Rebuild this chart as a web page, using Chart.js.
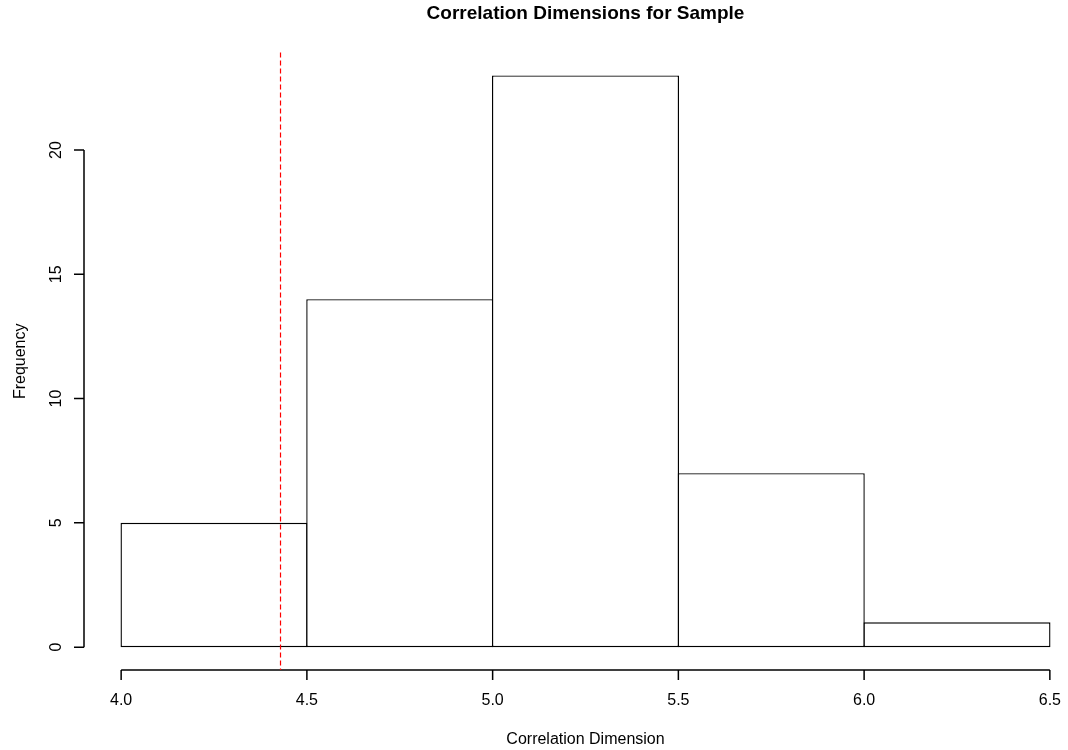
<!DOCTYPE html>
<html>
<head>
<meta charset="utf-8">
<title>Correlation Dimensions for Sample</title>
<script src="https://cdn.jsdelivr.net/npm/chart.js@4/dist/chart.umd.min.js"></script>
<style>
  html, body { margin: 0; padding: 0; background: #fff; overflow: hidden; }
  #wrap { width: 1068px; height: 750px; overflow: hidden; }
  canvas { display: block; }
</style>
</head>
<body>
<div id="wrap"><canvas id="hist" width="1100" height="750"></canvas></div>
<script>
// histogram bins (edges) and counts
const binEdges = [4.0, 4.5, 5.0, 5.5, 6.0, 6.5];
const binCounts = [5, 14, 23, 7, 1];

// axis ticks
const xTicks = [4.0, 4.5, 5.0, 5.5, 6.0, 6.5];
const xTickLabels = ['4.0', '4.5', '5.0', '5.5', '6.0', '6.5'];
const yTicks = [0, 5, 10, 15, 20];
const yTickLabels = ['0', '5', '10', '15', '20'];

// observed value marked with the dashed red line
const observedDim = 4.429;

const FONT = '"Liberation Sans", Arial, Helvetica, sans-serif';

const barData = binCounts.map((c, i) => ({ x: (binEdges[i] + binEdges[i + 1]) / 2, y: c }));

// R-like axes, labels and reference line
const rAxes = {
  id: 'rAxes',
  afterDatasetsDraw(chart) {
    const ctx = chart.ctx;
    const xs = chart.scales.x, ys = chart.scales.y;
    const area = chart.chartArea;
    ctx.save();
    ctx.strokeStyle = '#000';
    ctx.fillStyle = '#000';
    ctx.lineWidth = 1.5;

    // x axis
    const xAxisY = area.bottom;
    ctx.beginPath();
    ctx.moveTo(xs.getPixelForValue(xTicks[0]), xAxisY);
    ctx.lineTo(xs.getPixelForValue(xTicks[xTicks.length - 1]), xAxisY);
    xTicks.forEach(v => {
      const px = xs.getPixelForValue(v);
      ctx.moveTo(px, xAxisY);
      ctx.lineTo(px, xAxisY + 10);
    });
    ctx.stroke();

    ctx.font = '16px ' + FONT;
    ctx.textAlign = 'center';
    ctx.textBaseline = 'alphabetic';
    xTicks.forEach((v, i) => {
      ctx.fillText(xTickLabels[i], xs.getPixelForValue(v), 704.5);
    });

    // y axis
    const yAxisX = area.left;
    ctx.beginPath();
    ctx.moveTo(yAxisX, ys.getPixelForValue(yTicks[0]));
    ctx.lineTo(yAxisX, ys.getPixelForValue(yTicks[yTicks.length - 1]));
    yTicks.forEach(v => {
      const py = ys.getPixelForValue(v);
      ctx.moveTo(yAxisX, py);
      ctx.lineTo(yAxisX - 10, py);
    });
    ctx.stroke();

    yTicks.forEach((v, i) => {
      ctx.save();
      ctx.translate(61, ys.getPixelForValue(v));
      ctx.rotate(-Math.PI / 2);
      ctx.fillText(yTickLabels[i], 0, 0);
      ctx.restore();
    });

    // axis titles
    ctx.fillText('Correlation Dimension', (area.left + area.right) / 2, 743.5);
    ctx.save();
    ctx.translate(25, (area.top + area.bottom) / 2);
    ctx.rotate(-Math.PI / 2);
    ctx.fillText('Frequency', 0, 0);
    ctx.restore();

    // dashed reference line
    const lx = xs.getPixelForValue(observedDim);
    ctx.strokeStyle = '#ff0000';
    ctx.lineWidth = 1.2;
    ctx.setLineDash([5, 3]);
    ctx.beginPath();
    ctx.moveTo(lx, area.top);
    ctx.lineTo(lx, area.bottom);
    ctx.stroke();
    ctx.restore();
  }
};

new Chart(document.getElementById('hist'), {
  type: 'bar',
  data: {
    datasets: [{
      data: barData,
      backgroundColor: '#ffffff',
      borderColor: '#000000',
      borderWidth: 1.4,
      borderSkipped: false,
      inflateAmount: 0,
      barPercentage: 1.007,
      categoryPercentage: 1
    }]
  },
  options: {
    responsive: false,
    devicePixelRatio: 1,
    animation: false,
    layout: { padding: { left: 84, right: 13, top: 0, bottom: 80 } },
    scales: {
      x: {
        type: 'linear', min: 3.9, max: 6.6, offset: false, display: false,
        // bin-edge ticks so the bar width follows the bin spacing
        afterBuildTicks: s => { s.ticks = xTicks.map(v => ({ value: v })); }
      },
      y: { type: 'linear', min: -0.92, max: 23.92, display: false }
    },
    plugins: {
      legend: { display: false },
      tooltip: { enabled: false },
      title: {
        display: true,
        text: 'Correlation Dimensions for Sample',
        color: '#000',
        font: { family: FONT, size: 19, weight: 'bold', lineHeight: 1.2 },
        padding: { top: 2.7, bottom: 27.1 }
      }
    }
  },
  plugins: [rAxes]
});
</script>
</body>
</html>
